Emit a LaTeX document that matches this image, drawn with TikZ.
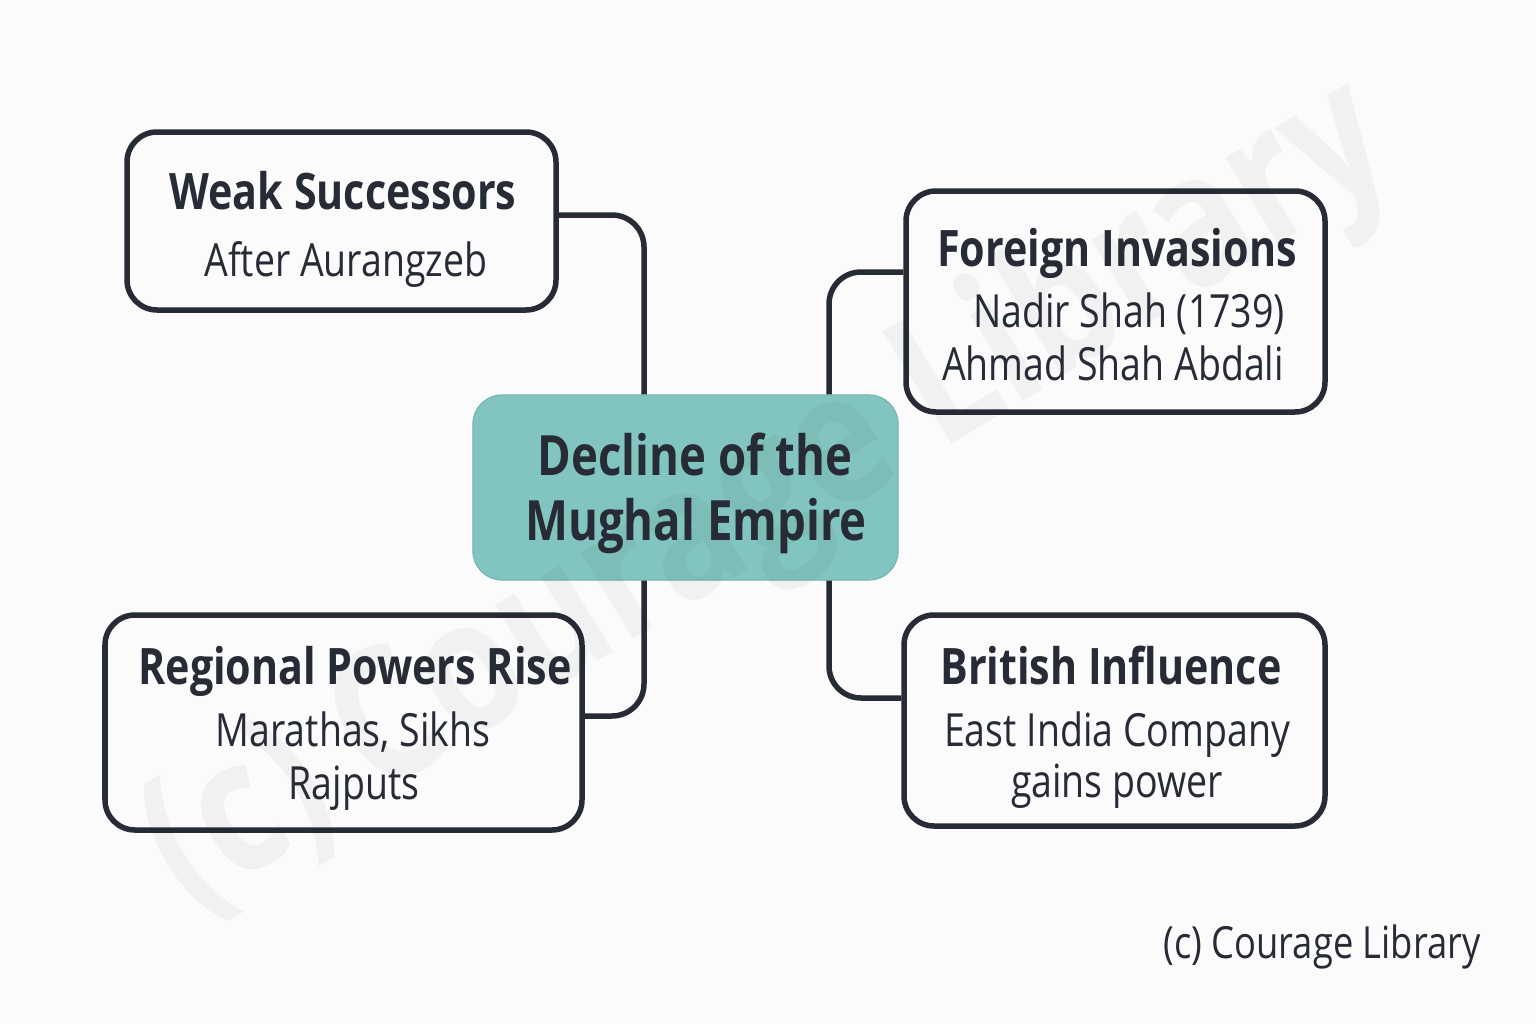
\documentclass[tikz,border=0pt]{standalone}
\usepackage{fontspec}
\setmainfont[FakeStretch=.82]{Open Sans}
\definecolor{ink}{HTML}{262B35}
\definecolor{teal}{HTML}{82C5C0}
\definecolor{paper}{HTML}{FBFBFC}
\begin{document}
\begin{tikzpicture}
  [x=.01cm,y=-.01cm,every node/.style={text=ink,inner sep=0pt,anchor=base}]
  \tikzstyle{cause} = [draw=ink,line width=.055cm,rounded corners=.3cm,anchor=center]
  \tikzstyle{hub} = [draw=teal!90!black,fill=teal,line width=.01cm,rounded corners=.29cm,anchor=center]
  \tikzstyle{link} = [draw=ink,line width=.055cm,rounded corners=.32cm]
  \tikzstyle{head} = [font=\fontsize{14.3}{16}\bfseries]
  \tikzstyle{sub} = [font=\fontsize{13}{16}\selectfont]
  \fill[paper] (0,0) rectangle (1536,1024);
  \path[use as bounding box] (0,0) rectangle (1536,1024);
  % boxes
  \foreach \name /\xa /\ya /\xb /\yb in {weak/127/132/556/310,foreign/906/191/1325/412,regional/105/615/582/830,british/904/615/1325/826}
    \node[cause,minimum width=(\xb-\xa)*.01cm,minimum height=(\yb-\ya)*.01cm] (\name) at ({(\xa+\xb)/2},{(\ya+\yb)/2}) {};
  \node[hub,minimum width=4.25cm,minimum height=1.85cm] (centre) at (685.5,487.5) {};
  % bends
  \coordinate (b1) at (644,215);
  \coordinate (b2) at (829,272);
  \coordinate (b3) at (644,716);
  \coordinate (b4) at (829,698);
  \draw[link] (weak.east |- b1) -- (b1) -- (b1 |- centre.north);
  \draw[link] (foreign.west |- b2) -- (b2) -- (b2 |- centre.north);
  \draw[link] (regional.east |- b3) -- (b3) -- (b3 |- centre.south);
  \draw[link] (british.west |- b4) -- (b4) -- (b4 |- centre.south);
  % watermark
  \node[rotate=31.5,anchor=center,opacity=.04,text=black,font=\fontsize{52.5}{52}\bfseries] (mark) at (770,500) {(c) Courage Library};
  % texts
  \foreach \name /\px /\py /\txt in {t1/343/209/Weak Successors,t2/1117/266/Foreign Invasions,t3/355/684/Regional Powers Rise,t4/1111/684/British Influence}
    \node[head] (\name) at (\px,\py) {\txt};
  \foreach \name /\px /\py /\txt in {s1/346/276/After Aurangzeb,s2/1129/327/Nadir Shah (1739),s3/1113/380/Ahmad Shah Abdali,s4/353/746/{Marathas, Sikhs},s5/354/799/Rajputs,s6/1117/746/East India Company,s7/1117/797/gains power}
    \node[sub] (\name) at (\px,\py) {\txt};
  \node[font=\fontsize{15.8}{20}\bfseries] (c1) at (695,475) {Decline of the};
  \node[font=\fontsize{15.8}{20}\bfseries] (c2) at (696,540) {Mughal Empire};
  \node[font=\fontsize{12.6}{14}\selectfont] (credit) at (1322,958) {(c) Courage Library};
\end{tikzpicture}
\end{document}
